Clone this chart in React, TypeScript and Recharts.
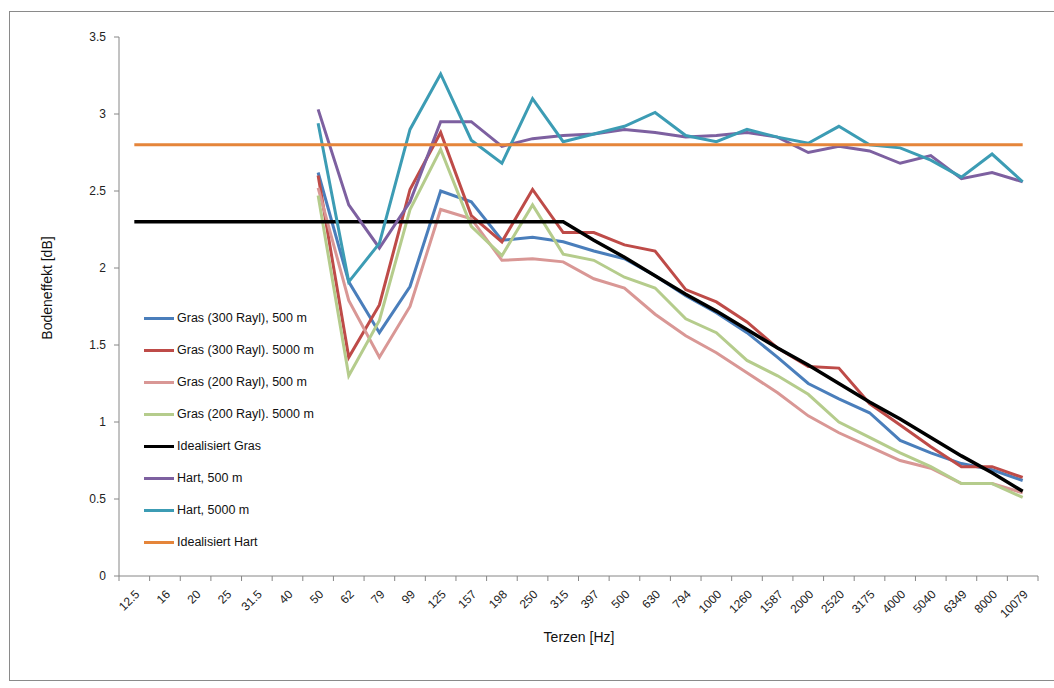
import React from 'react';
import { LineChart, Line, XAxis, YAxis } from 'recharts';

const categories = ['12.5','16','20','25','31.5','40','50','62','79','99','125','157','198','250','315','397','500','630','794','1000','1260','1587','2000','2520','3175','4000','5040','6349','8000','10079'];

const N = null;
const gras300_500 = [N,N,N,N,N,N,2.62,1.91,1.58,1.88,2.50,2.43,2.18,2.20,2.17,2.11,2.06,1.95,1.82,1.71,1.58,1.42,1.25,1.15,1.06,0.88,0.80,0.73,0.69,0.62];
const gras300_5000 = [N,N,N,N,N,N,2.60,1.42,1.76,2.51,2.88,2.34,2.17,2.51,2.23,2.23,2.15,2.11,1.86,1.78,1.65,1.48,1.36,1.35,1.12,0.98,0.84,0.71,0.71,0.64];
const gras200_500 = [N,N,N,N,N,N,2.52,1.79,1.42,1.75,2.38,2.32,2.05,2.06,2.04,1.93,1.87,1.70,1.56,1.45,1.32,1.19,1.04,0.93,0.84,0.75,0.70,0.60,0.60,0.54];
const gras200_5000 = [N,N,N,N,N,N,2.47,1.30,1.66,2.38,2.77,2.27,2.08,2.41,2.09,2.05,1.94,1.87,1.67,1.58,1.40,1.30,1.18,1.00,0.90,0.80,0.71,0.60,0.60,0.51];
const idealGras = [2.3,2.3,2.3,2.3,2.3,2.3,2.3,2.3,2.3,2.3,2.3,2.3,2.3,2.3,2.3,2.18,2.07,1.95,1.83,1.72,1.60,1.48,1.37,1.25,1.13,1.02,0.90,0.78,0.67,0.55];
const hart500 = [N,N,N,N,N,N,3.03,2.41,2.13,2.43,2.95,2.95,2.79,2.84,2.86,2.87,2.90,2.88,2.85,2.86,2.88,2.85,2.75,2.79,2.76,2.68,2.73,2.58,2.62,2.56];
const hart5000 = [N,N,N,N,N,N,2.94,1.91,2.16,2.90,3.26,2.83,2.68,3.10,2.82,2.87,2.92,3.01,2.86,2.82,2.90,2.85,2.81,2.92,2.80,2.78,2.70,2.59,2.74,2.56];
const idealHart = [2.8,2.8,2.8,2.8,2.8,2.8,2.8,2.8,2.8,2.8,2.8,2.8,2.8,2.8,2.8,2.8,2.8,2.8,2.8,2.8,2.8,2.8,2.8,2.8,2.8,2.8,2.8,2.8,2.8,2.8];

const yTicks = [0, 0.5, 1, 1.5, 2, 2.5, 3, 3.5];

const seriesNames = ['Gras (300 Rayl), 500 m','Gras (300 Rayl). 5000 m','Gras (200 Rayl), 500 m','Gras (200 Rayl). 5000 m','Idealisiert Gras','Hart, 500 m','Hart, 5000 m','Idealisiert Hart'];
const seriesValues = [gras300_500, gras300_5000, gras200_500, gras200_5000, idealGras, hart500, hart5000, idealHart];
const seriesColors = ['#4A7EBB','#BE4B48','#D99795','#B5CC8C','#000000','#7D60A0','#3C9CB4','#E5853A'];
const seriesWidths = [3,3,3,3,3.5,3,3,3];

const data = categories.map((c, i) => {
  const row: any = { cat: c };
  seriesValues.forEach((arr, k) => { row['s' + k] = arr[i]; });
  return row;
});

const W = 1054, H = 688;
const M = { top: 37, right: 16, left: 0, bottom: 0 };
const YW = 119, XH = 112;
const BAND = (W - M.right - YW) / categories.length;
const FONT = '"Liberation Sans", Arial, sans-serif';
const AXIS = '#868686';

const XTick = (props: any) => {
  const { x, y, payload, index } = props;
  return (
    <g>
      <line x1={x - BAND / 2} x2={x - BAND / 2} y1={y} y2={y + 5} stroke={AXIS} />
      {index === categories.length - 1 && (
        <line x1={x + BAND / 2} x2={x + BAND / 2} y1={y} y2={y + 5} stroke={AXIS} />
      )}
      <text x={x + 6} y={y + 19} transform={`rotate(-45 ${x + 6} ${y + 19})`} textAnchor="end" fontSize={12} fill="#222" fontFamily={FONT}>
        {payload.value}
      </text>
    </g>
  );
};

export default function App() {
  return (
    <div style={{ position: 'absolute', left: 0, top: 0, width: W, height: H, background: '#fff', overflow: 'hidden', fontFamily: FONT }}>
      <div style={{ position: 'absolute', left: 9, top: 11, width: 1100, height: 668, border: '1px solid #8a8a8a' }} />
      <div style={{ position: 'absolute', left: 0, top: 0 }}>
        <LineChart width={W} height={H} data={data} margin={M}>
          <XAxis dataKey="cat" height={XH} interval={0} padding={{ left: BAND / 2, right: BAND / 2 }} tickLine={false} tickSize={0} tickMargin={0} stroke={AXIS} tick={<XTick />} />
          <YAxis width={YW} domain={[0, 3.5]} ticks={yTicks} type="number" tickSize={5} tickMargin={8} stroke={AXIS} tick={{ fill: '#222', fontSize: 12, fontFamily: FONT }} allowDataOverflow />
          {seriesNames.map((name, k) => (
            <Line key={k} type="linear" dataKey={'s' + k} name={name} stroke={seriesColors[k]} strokeWidth={seriesWidths[k]} dot={false} activeDot={false} isAnimationActive={false} connectNulls={false} />
          ))}
        </LineChart>
      </div>
      <div style={{ position: 'absolute', left: 144, top: 302, fontSize: 12.5, color: '#111' }}>
        {seriesNames.map((name, k) => (
          <div key={k} style={{ height: 32, display: 'flex', alignItems: 'center' }}>
            <div style={{ width: 30, height: 3, background: seriesColors[k], marginRight: 3 }} />
            <span style={{ whiteSpace: 'nowrap' }}>{name}</span>
          </div>
        ))}
      </div>
      <div style={{ position: 'absolute', left: 47, top: 288, transform: 'translate(-50%, -50%) rotate(-90deg)', fontSize: 14, whiteSpace: 'nowrap', color: '#111' }}>Bodeneffekt [dB]</div>
      <div style={{ position: 'absolute', left: 579, top: 637, transform: 'translate(-50%, -50%)', fontSize: 14, whiteSpace: 'nowrap', color: '#111' }}>Terzen [Hz]</div>
    </div>
  );
}
